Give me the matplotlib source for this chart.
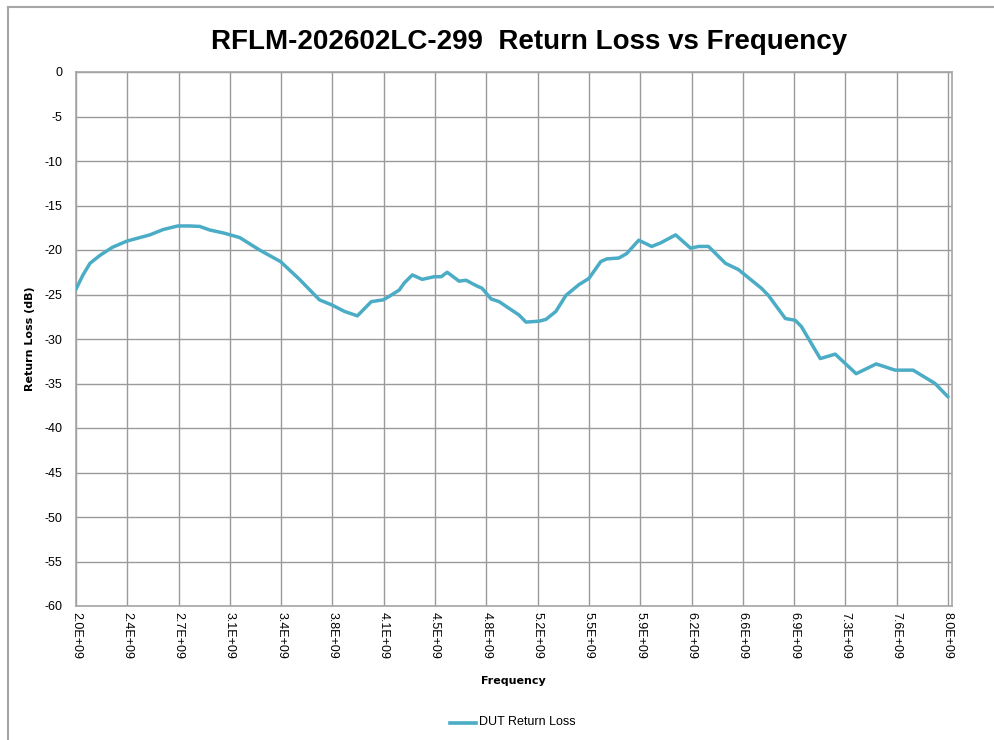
import matplotlib.pyplot as plt
from matplotlib.lines import Line2D
import numpy as np

# return loss trace (GHz, dB)
freq_ghz = [2.000, 2.048, 2.096, 2.165, 2.250, 2.350, 2.508, 2.600, 2.700, 2.782,
            2.851, 2.920, 3.018, 3.126, 3.263, 3.407, 3.538, 3.675, 3.764, 3.847,
            3.936, 4.032, 4.114, 4.156, 4.224, 4.259, 4.314, 4.382, 4.465, 4.513,
            4.554, 4.636, 4.684, 4.753, 4.794, 4.856, 4.911, 4.993, 5.048, 5.096,
            5.185, 5.233, 5.302, 5.371, 5.460, 5.529, 5.611, 5.652, 5.735, 5.789,
            5.872, 5.961, 6.023, 6.126, 6.229, 6.284, 6.352, 6.469, 6.558, 6.716,
            6.764, 6.881, 6.949, 6.991, 7.121, 7.224, 7.368, 7.506, 7.636, 7.760,
            7.911, 8.000]
rl_db = [-24.4, -22.8, -21.5, -20.6, -19.7, -19.0, -18.3, -17.7, -17.3, -17.3,
         -17.35, -17.75, -18.1, -18.6, -20.0, -21.3, -23.3, -25.6, -26.2, -26.9,
         -27.4, -25.8, -25.6, -25.2, -24.5, -23.7, -22.8, -23.3, -23.0, -23.0,
         -22.5, -23.5, -23.4, -24.0, -24.3, -25.5, -25.8, -26.7, -27.3, -28.1,
         -28.0, -27.8, -26.9, -25.1, -23.9, -23.2, -21.3, -21.0, -20.9, -20.4,
         -18.9, -19.6, -19.2, -18.3, -19.8, -19.6, -19.6, -21.5, -22.2, -24.3,
         -25.1, -27.7, -27.9, -28.6, -32.2, -31.7, -33.9, -32.8, -33.5, -33.5,
         -35.0, -36.5]

title = "RFLM-202602LC-299  Return Loss vs Frequency"
series_name = "DUT Return Loss"
y_ticks = list(range(0, -65, -5))
n_cat = 18   # excel category ticks from 2 to 8 GHz

freq = np.array(freq_ghz) * 1e9
x_ticks = np.linspace(2e9, 8e9, n_cat)
x_labels = [f"{v:.1E}" for v in x_ticks]

W, H = 995, 740
fig = plt.figure(figsize=(W / 100, H / 100), dpi=100, facecolor='w')

# chart border (only top and left show in the picture)
fig.add_artist(Line2D([8 / W, 1.0], [1 - 7 / H, 1 - 7 / H], transform=fig.transFigure, color='#a6a6a6', lw=1.5))
fig.add_artist(Line2D([8 / W, 8 / W], [0, 1 - 7 / H], transform=fig.transFigure, color='#a6a6a6', lw=1.5))

ax = fig.add_axes([76 / W, 1 - 606 / H, (952 - 76) / W, (606 - 72) / H])
ax.plot(freq, rl_db, color='#4BACC6', lw=2.5, solid_capstyle='round', solid_joinstyle='round', zorder=3)

ax.set_xlim(2e9, 2e9 + 876 / 872 * 6e9)
ax.set_ylim(-60, 0)
ax.set_xticks(x_ticks)
ax.set_xticklabels(x_labels, rotation=270, fontsize=9, family='Liberation Sans', va='top', ha='center')
ax.set_yticks(y_ticks)
ax.set_yticklabels([str(v) for v in y_ticks], fontsize=9, family='Liberation Sans')
ax.tick_params(length=0)
ax.tick_params(axis='y', pad=10)
ax.tick_params(axis='x', pad=4)
ax.grid(True, color='#9a9a9a', lw=1.0)
ax.set_axisbelow(True)
for s in ax.spines.values():
    s.set_color('#a6a6a6')
    s.set_linewidth(1.2)

ax.set_ylabel("Return Loss (dB)", fontsize=8, fontweight='bold', family='DejaVu Sans')
ax.yaxis.set_label_coords((35 - 76) / 876, 0.5)
ax.set_xlabel("Frequency", fontsize=8, fontweight='bold', family='DejaVu Sans')
ax.xaxis.set_label_coords((513 - 76) / 876, (606 - 676) / 534)

fig.text(529 / W, 1 - 42 / H, title, ha='center', va='center', fontsize=20, fontweight='bold',
         family='Liberation Sans')

# legend at the bottom
fig.add_artist(Line2D([450 / W, 476 / W], [1 - 723 / H, 1 - 723 / H], transform=fig.transFigure, color='#4BACC6', lw=2.6))
fig.text(479 / W, 1 - 722 / H, series_name, ha='left', va='center', fontsize=9, family='Liberation Sans')

plt.savefig('out.png', dpi=100)
